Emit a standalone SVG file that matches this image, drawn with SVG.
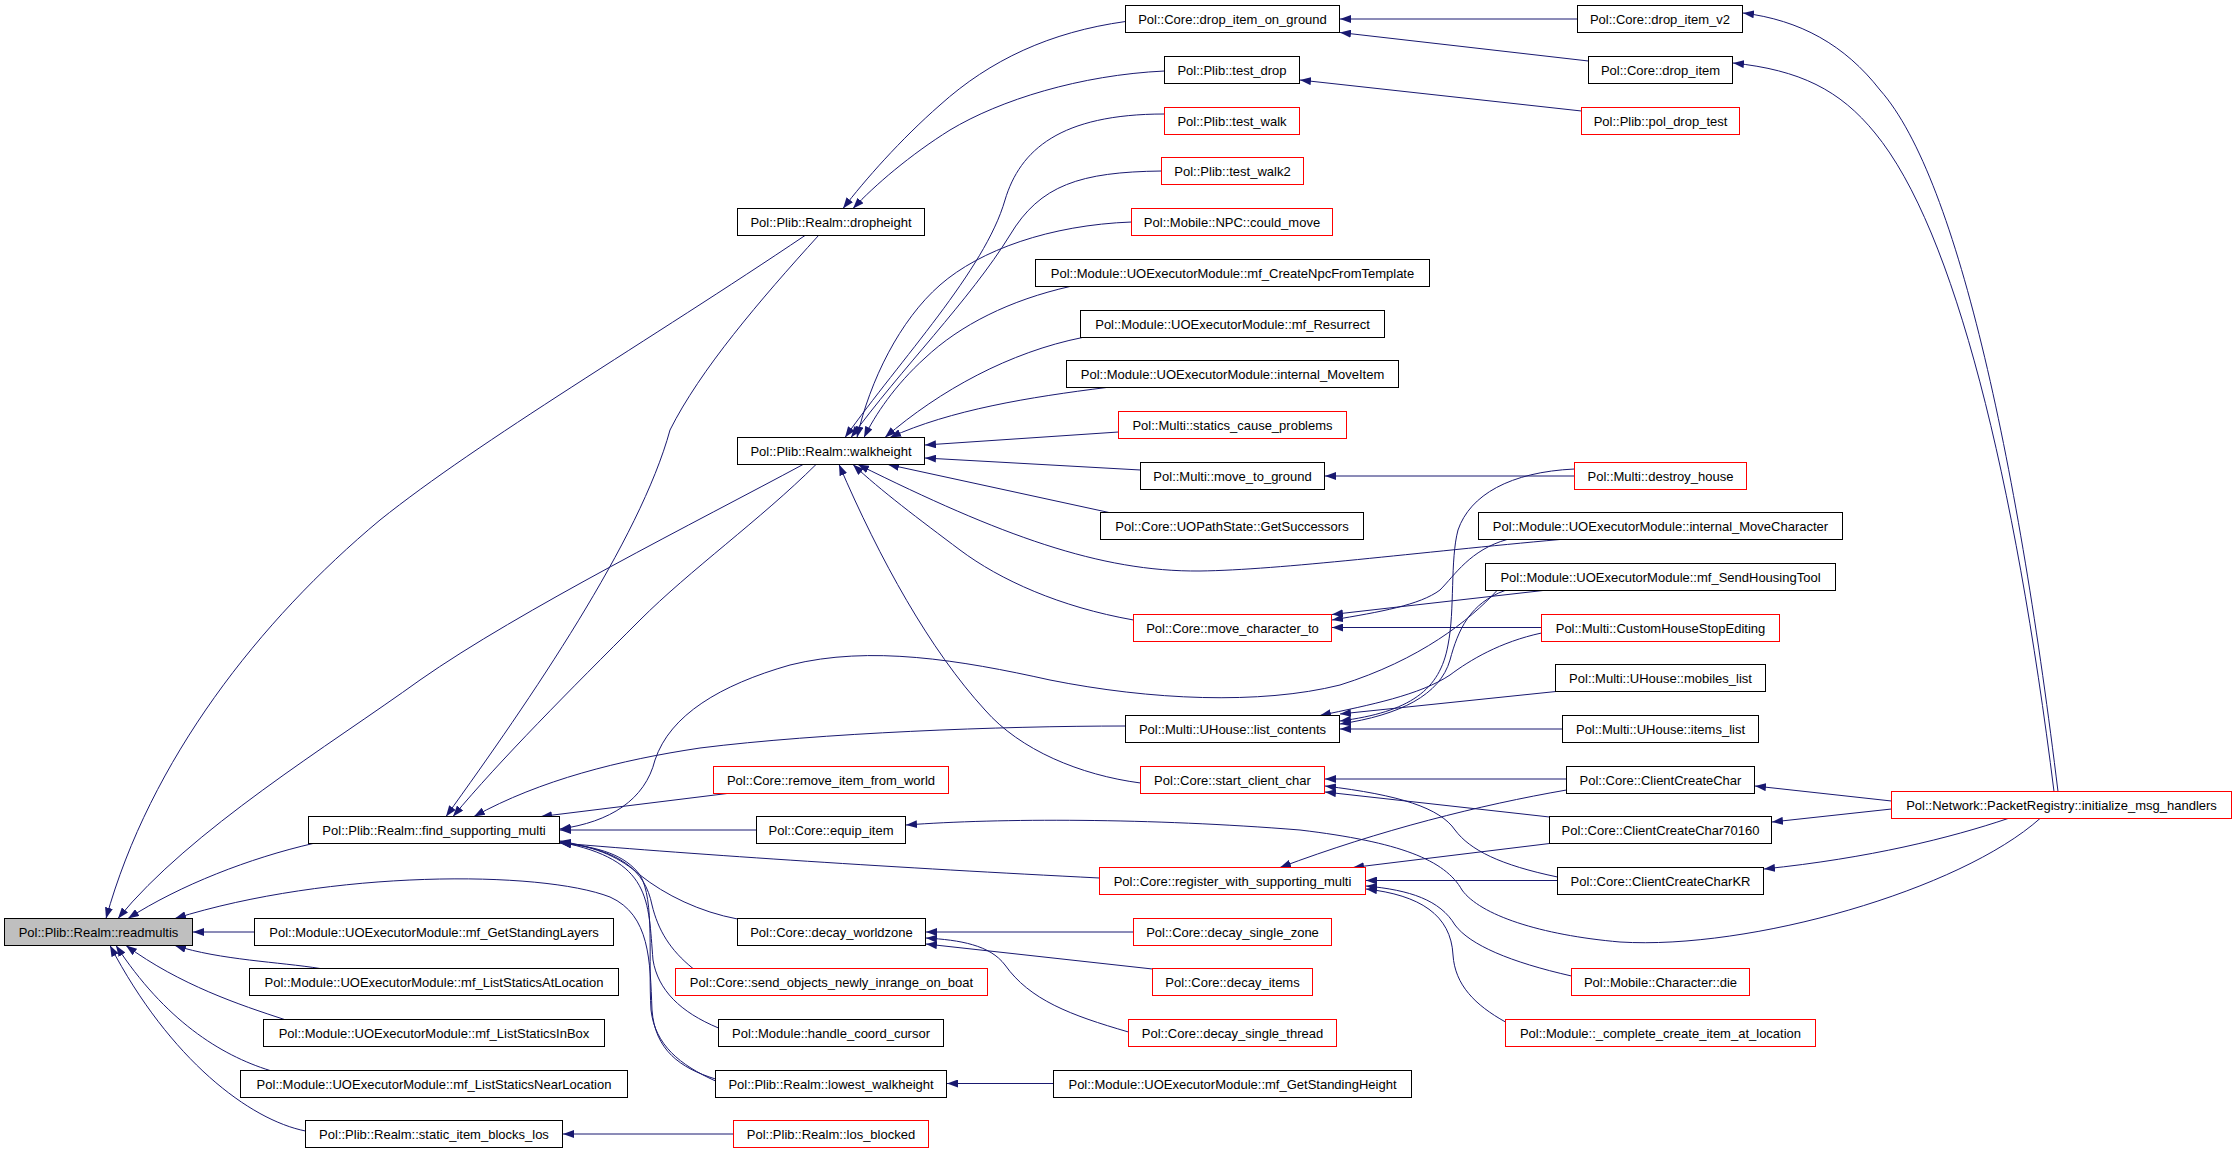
<svg xmlns="http://www.w3.org/2000/svg" width="2237" height="1152" viewBox="0 0 2237 1152">
<defs>
<marker id="a" viewBox="0 0 11 8" refX="11" refY="4" markerWidth="11" markerHeight="8" markerUnits="userSpaceOnUse" orient="auto">
<path d="M0,0 L11,4 L0,8 z" fill="#191970"/>
</marker>
<style>
.e path{fill:none;stroke:#191970;stroke-width:1;marker-end:url(#a)}
.n rect{fill:#fff;stroke:#000;stroke-width:1}
.n.r rect{stroke:#ff0000}
.n.g rect{fill:#bfbfbf}
.n text{font-family:"Liberation Sans",Arial,Helvetica,sans-serif;font-size:13px;text-anchor:middle;fill:#000}
</style>
</defs>
<rect width="2237" height="1152" fill="#fff"/>
<g id="connectors" class="e">
<path d="M805,235.5 C650,340 480,440 380,520 C260,620 150,760 106,918.5"/>
<path d="M803,464.5 C700,520 520,610 420,680 C330,745 190,830 118,918.5"/>
<path d="M313,843.5 C250,858 180,885 128,918.5"/>
<path d="M715.5,1079 C680,1068 655,1050 652,1010 C650,960 650,915 610,897 C540,870 330,870 175,918.5"/>
<path d="M254.5,932 L193,932"/>
<path d="M320,968.5 C280,962 220,960 175,945.5"/>
<path d="M284.5,1019.5 C240,1005 180,985 126,945.5"/>
<path d="M270,1070.5 C220,1055 165,1020 116,945.5"/>
<path d="M305.5,1131 C250,1120 170,1060 110,945.5"/>
<path d="M1125.5,21.5 C1050,32 990,60 940,105 C900,140 865,180 843,208.5"/>
<path d="M1164.5,71 C1080,75 1000,100 950,130 C910,155 875,185 853,208.5"/>
<path d="M1577.5,19 L1340,19"/>
<path d="M1588.5,61 L1340,32.5"/>
<path d="M1581.5,111 L1300,80"/>
<path d="M818.5,235.5 C760,300 700,370 670,430 C640,540 530,700 446,816.5"/>
<path d="M816,464.5 C760,520 690,570 640,620 C570,690 500,760 453,816.5"/>
<path d="M1164.5,114 C1060,114 1020,150 1005,200 C985,270 900,360 845,437.5"/>
<path d="M1161.5,171 C1080,172 1040,185 1010,235 C970,300 900,370 851,437.5"/>
<path d="M1131.5,222 C1050,225 980,250 940,285 C900,320 870,380 857,437.5"/>
<path d="M1070,286.5 C1010,300 960,325 925,358 C895,385 875,415 864,437.5"/>
<path d="M1082.5,337.5 C1010,352 940,390 885,437.5"/>
<path d="M1106.5,387.5 C1030,397 950,410 890,437.5"/>
<path d="M1118.5,432 L925,445"/>
<path d="M1140.5,470 L925,458"/>
<path d="M1109,512.5 L888,464.5"/>
<path d="M1133.5,620 C1060,607 1000,580 960,550 C920,520 880,490 853,464.5"/>
<path d="M1560,539.5 C1420,552 1280,570 1200,571 C1100,572 1000,535 858,464.5"/>
<path d="M1140.5,783 C1080,775 1020,750 985,710 C930,650 880,560 839,464.5"/>
<path d="M1541.5,627.5 L1332,627.5"/>
<path d="M1507,539.5 C1470,550 1455,575 1440,590 C1420,605 1380,612 1332,620"/>
<path d="M1543,590.5 L1332,614.5"/>
<path d="M1574.5,476 L1325,476"/>
<path d="M1556,691.5 L1340,714"/>
<path d="M1562.5,729 L1340,729"/>
<path d="M1574.5,469 C1510,472 1470,495 1458,530 C1450,560 1455,610 1448,645 C1440,690 1410,712 1340,721"/>
<path d="M1505,590.5 C1470,603 1458,630 1450,660 C1440,695 1400,715 1340,724"/>
<path d="M1541.5,633 C1500,642 1470,660 1450,675 C1420,695 1370,705 1320,715.5"/>
<path d="M1125.5,726 C1000,726 820,733 700,748 C620,760 540,780 474,816.5"/>
<path d="M1497,590.5 C1470,620 1420,660 1340,685 C1260,705 1150,700 1050,680 C960,660 870,645 790,665 C720,685 670,715 655,760 C645,800 610,822 560,829"/>
<path d="M1566.5,779 L1325,779"/>
<path d="M1549.5,817 L1325,792"/>
<path d="M1557.5,877 C1500,865 1470,850 1455,830 C1440,808 1400,795 1325,786"/>
<path d="M2058,791.5 C2020,480 1960,180 1880,90 C1845,45 1800,20 1743,13"/>
<path d="M2054,791.5 C2015,480 1955,230 1875,133 C1840,90 1800,70 1733,63"/>
<path d="M1891.5,801 L1755,786"/>
<path d="M1891.5,809 L1772,822"/>
<path d="M2008,818.5 C1950,838 1870,858 1764,869"/>
<path d="M2040,818.5 C1960,890 1750,950 1620,942 C1540,935 1480,915 1462,890 C1445,860 1400,842 1300,830 C1150,818 1000,818 906,825"/>
<path d="M1566.5,790 C1480,805 1380,830 1280,867.5"/>
<path d="M1549.5,843.5 L1353,867.5"/>
<path d="M1557.5,880.5 L1366,880.5"/>
<path d="M1571.5,976 C1510,962 1470,945 1455,925 C1440,900 1410,890 1366,886"/>
<path d="M1505.5,1022 C1475,1005 1455,985 1453,955 C1451,915 1420,895 1366,889"/>
<path d="M1099.5,878 C900,868 700,855 560,843"/>
<path d="M756.5,830 L560,830"/>
<path d="M727,793.5 L541,816.5"/>
<path d="M737.5,919 C700,912 665,895 640,875 C620,858 600,848 560,841"/>
<path d="M693,968.5 C670,950 658,930 652,905 C645,870 620,850 560,842"/>
<path d="M718.5,1028 C680,1012 658,990 653,960 C648,900 652,860 560,842"/>
<path d="M715.5,1081 C680,1065 655,1045 651,1010 C648,960 655,900 640,875 C625,855 600,847 560,843"/>
<path d="M1133.5,932 L926,932"/>
<path d="M1152.5,969 L926,944"/>
<path d="M1128.5,1032 C1070,1015 1030,1000 1005,965 C990,945 960,940 926,938"/>
<path d="M1053.5,1083.5 L947,1083.5"/>
<path d="M733.5,1134 L563,1134"/>
</g>
<g id="n_readmultis" class="n g"><rect x="4.5" y="918.5" width="188" height="27"/><text x="98.5" y="936.5">Pol::Plib::Realm::readmultis</text></g>
<g id="n_dropheight" class="n"><rect x="737.5" y="208.5" width="187" height="27"/><text x="831" y="226.5">Pol::Plib::Realm::dropheight</text></g>
<g id="n_walkheight" class="n"><rect x="737.5" y="437.5" width="187" height="27"/><text x="831" y="455.5">Pol::Plib::Realm::walkheight</text></g>
<g id="n_find_supporting_multi" class="n"><rect x="308.5" y="816.5" width="251" height="27"/><text x="434" y="834.5">Pol::Plib::Realm::find_supporting_multi</text></g>
<g id="n_static_item_blocks_los" class="n"><rect x="305.5" y="1120.5" width="257" height="27"/><text x="434" y="1138.5">Pol::Plib::Realm::static_item_blocks_los</text></g>
<g id="n_mf_GetStandingLayers" class="n"><rect x="254.5" y="918.5" width="359" height="27"/><text x="434" y="936.5">Pol::Module::UOExecutorModule::mf_GetStandingLayers</text></g>
<g id="n_mf_ListStaticsAtLocation" class="n"><rect x="249.5" y="968.5" width="369" height="27"/><text x="434" y="986.5">Pol::Module::UOExecutorModule::mf_ListStaticsAtLocation</text></g>
<g id="n_mf_ListStaticsInBox" class="n"><rect x="263.5" y="1019.5" width="341" height="27"/><text x="434" y="1037.5">Pol::Module::UOExecutorModule::mf_ListStaticsInBox</text></g>
<g id="n_mf_ListStaticsNearLocation" class="n"><rect x="240.5" y="1070.5" width="387" height="27"/><text x="434" y="1088.5">Pol::Module::UOExecutorModule::mf_ListStaticsNearLocation</text></g>
<g id="n_drop_item_on_ground" class="n"><rect x="1125.5" y="5.5" width="214" height="27"/><text x="1232.5" y="23.5">Pol::Core::drop_item_on_ground</text></g>
<g id="n_test_drop" class="n"><rect x="1164.5" y="56.5" width="135" height="27"/><text x="1232" y="74.5">Pol::Plib::test_drop</text></g>
<g id="n_test_walk" class="n r"><rect x="1164.5" y="107.5" width="135" height="27"/><text x="1232" y="125.5">Pol::Plib::test_walk</text></g>
<g id="n_test_walk2" class="n r"><rect x="1161.5" y="157.5" width="142" height="27"/><text x="1232.5" y="175.5">Pol::Plib::test_walk2</text></g>
<g id="n_could_move" class="n r"><rect x="1131.5" y="208.5" width="201" height="27"/><text x="1232" y="226.5">Pol::Mobile::NPC::could_move</text></g>
<g id="n_mf_CreateNpcFromTemplate" class="n"><rect x="1035.5" y="259.5" width="394" height="27"/><text x="1232.5" y="277.5">Pol::Module::UOExecutorModule::mf_CreateNpcFromTemplate</text></g>
<g id="n_mf_Resurrect" class="n"><rect x="1080.5" y="310.5" width="304" height="27"/><text x="1232.5" y="328.5">Pol::Module::UOExecutorModule::mf_Resurrect</text></g>
<g id="n_internal_MoveItem" class="n"><rect x="1066.5" y="360.5" width="332" height="27"/><text x="1232.5" y="378.5">Pol::Module::UOExecutorModule::internal_MoveItem</text></g>
<g id="n_statics_cause_problems" class="n r"><rect x="1118.5" y="411.5" width="228" height="27"/><text x="1232.5" y="429.5">Pol::Multi::statics_cause_problems</text></g>
<g id="n_move_to_ground" class="n"><rect x="1140.5" y="462.5" width="184" height="27"/><text x="1232.5" y="480.5">Pol::Multi::move_to_ground</text></g>
<g id="n_GetSuccessors" class="n"><rect x="1100.5" y="512.5" width="263" height="27"/><text x="1232" y="530.5">Pol::Core::UOPathState::GetSuccessors</text></g>
<g id="n_move_character_to" class="n r"><rect x="1133.5" y="614.5" width="198" height="27"/><text x="1232.5" y="632.5">Pol::Core::move_character_to</text></g>
<g id="n_list_contents" class="n"><rect x="1125.5" y="715.5" width="214" height="27"/><text x="1232.5" y="733.5">Pol::Multi::UHouse::list_contents</text></g>
<g id="n_start_client_char" class="n r"><rect x="1140.5" y="766.5" width="184" height="27"/><text x="1232.5" y="784.5">Pol::Core::start_client_char</text></g>
<g id="n_register_with_supporting_multi" class="n r"><rect x="1099.5" y="867.5" width="266" height="27"/><text x="1232.5" y="885.5">Pol::Core::register_with_supporting_multi</text></g>
<g id="n_decay_single_zone" class="n r"><rect x="1133.5" y="918.5" width="198" height="27"/><text x="1232.5" y="936.5">Pol::Core::decay_single_zone</text></g>
<g id="n_decay_items" class="n r"><rect x="1152.5" y="968.5" width="160" height="27"/><text x="1232.5" y="986.5">Pol::Core::decay_items</text></g>
<g id="n_decay_single_thread" class="n r"><rect x="1128.5" y="1019.5" width="208" height="27"/><text x="1232.5" y="1037.5">Pol::Core::decay_single_thread</text></g>
<g id="n_mf_GetStandingHeight" class="n"><rect x="1053.5" y="1070.5" width="358" height="27"/><text x="1232.5" y="1088.5">Pol::Module::UOExecutorModule::mf_GetStandingHeight</text></g>
<g id="n_remove_item_from_world" class="n r"><rect x="713.5" y="766.5" width="235" height="27"/><text x="831" y="784.5">Pol::Core::remove_item_from_world</text></g>
<g id="n_equip_item" class="n"><rect x="756.5" y="816.5" width="149" height="27"/><text x="831" y="834.5">Pol::Core::equip_item</text></g>
<g id="n_decay_worldzone" class="n"><rect x="737.5" y="918.5" width="188" height="27"/><text x="831.5" y="936.5">Pol::Core::decay_worldzone</text></g>
<g id="n_send_objects_newly_inrange_on_boat" class="n r"><rect x="675.5" y="968.5" width="312" height="27"/><text x="831.5" y="986.5">Pol::Core::send_objects_newly_inrange_on_boat</text></g>
<g id="n_handle_coord_cursor" class="n"><rect x="718.5" y="1019.5" width="225" height="27"/><text x="831" y="1037.5">Pol::Module::handle_coord_cursor</text></g>
<g id="n_lowest_walkheight" class="n"><rect x="715.5" y="1070.5" width="231" height="27"/><text x="831" y="1088.5">Pol::Plib::Realm::lowest_walkheight</text></g>
<g id="n_los_blocked" class="n r"><rect x="733.5" y="1120.5" width="195" height="27"/><text x="831" y="1138.5">Pol::Plib::Realm::los_blocked</text></g>
<g id="n_drop_item_v2" class="n"><rect x="1577.5" y="5.5" width="165" height="27"/><text x="1660" y="23.5">Pol::Core::drop_item_v2</text></g>
<g id="n_drop_item" class="n"><rect x="1588.5" y="56.5" width="144" height="27"/><text x="1660.5" y="74.5">Pol::Core::drop_item</text></g>
<g id="n_pol_drop_test" class="n r"><rect x="1581.5" y="107.5" width="158" height="27"/><text x="1660.5" y="125.5">Pol::Plib::pol_drop_test</text></g>
<g id="n_destroy_house" class="n r"><rect x="1574.5" y="462.5" width="172" height="27"/><text x="1660.5" y="480.5">Pol::Multi::destroy_house</text></g>
<g id="n_internal_MoveCharacter" class="n"><rect x="1478.5" y="512.5" width="364" height="27"/><text x="1660.5" y="530.5">Pol::Module::UOExecutorModule::internal_MoveCharacter</text></g>
<g id="n_mf_SendHousingTool" class="n"><rect x="1485.5" y="563.5" width="350" height="27"/><text x="1660.5" y="581.5">Pol::Module::UOExecutorModule::mf_SendHousingTool</text></g>
<g id="n_CustomHouseStopEditing" class="n r"><rect x="1541.5" y="614.5" width="238" height="27"/><text x="1660.5" y="632.5">Pol::Multi::CustomHouseStopEditing</text></g>
<g id="n_mobiles_list" class="n"><rect x="1555.5" y="664.5" width="210" height="27"/><text x="1660.5" y="682.5">Pol::Multi::UHouse::mobiles_list</text></g>
<g id="n_items_list" class="n"><rect x="1562.5" y="715.5" width="196" height="27"/><text x="1660.5" y="733.5">Pol::Multi::UHouse::items_list</text></g>
<g id="n_ClientCreateChar" class="n"><rect x="1566.5" y="766.5" width="188" height="27"/><text x="1660.5" y="784.5">Pol::Core::ClientCreateChar</text></g>
<g id="n_ClientCreateChar70160" class="n"><rect x="1549.5" y="816.5" width="222" height="27"/><text x="1660.5" y="834.5">Pol::Core::ClientCreateChar70160</text></g>
<g id="n_ClientCreateCharKR" class="n"><rect x="1557.5" y="867.5" width="206" height="27"/><text x="1660.5" y="885.5">Pol::Core::ClientCreateCharKR</text></g>
<g id="n_Character_die" class="n r"><rect x="1571.5" y="968.5" width="178" height="27"/><text x="1660.5" y="986.5">Pol::Mobile::Character::die</text></g>
<g id="n_complete_create_item_at_location" class="n r"><rect x="1505.5" y="1019.5" width="310" height="27"/><text x="1660.5" y="1037.5">Pol::Module::_complete_create_item_at_location</text></g>
<g id="n_initialize_msg_handlers" class="n r"><rect x="1891.5" y="791.5" width="340" height="27"/><text x="2061.5" y="809.5">Pol::Network::PacketRegistry::initialize_msg_handlers</text></g>
</svg>
